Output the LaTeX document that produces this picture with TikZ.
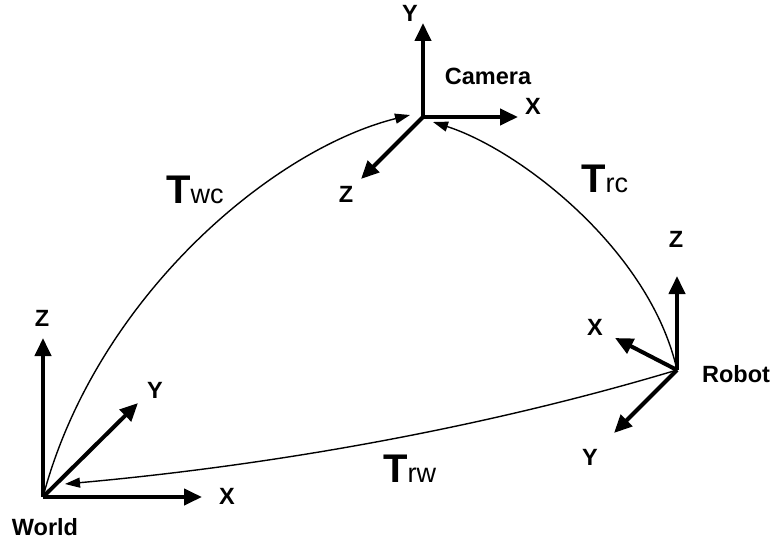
\documentclass[tikz,border=0pt]{standalone}
\usepackage{fontspec}
\setmainfont{Liberation Sans}
\usetikzlibrary{arrows.meta}
\tikzset{
  axis/.style={line width=4pt, -{Triangle[length=18pt,width=16pt]}},
  xform/.style={line width=1.4pt, -{Triangle[length=15pt,width=10pt]}},
  lbl/.style={font=\fontsize{23.5}{27}\selectfont\bfseries, inner sep=0pt, anchor=center},
  tlbl/.style={inner sep=0pt, anchor=base west}
}
\newcommand{\tname}[1]{{\fontsize{40}{40}\selectfont\bfseries T}{\fontsize{27}{27}\selectfont #1}}
\begin{document}
\begin{tikzpicture}[x=1pt,y=-1pt]
\useasboundingbox (0,0) rectangle (773,543);
% origins
\coordinate (cam) at (423,117);
\coordinate (wor) at (43,497);
\coordinate (rob) at (677,370);
% axis tips
\coordinate (camY) at (423,23);
\coordinate (camX) at (518,117);
\coordinate (camZ) at (361,179);
\coordinate (worZ) at (43,338);
\coordinate (worX) at (202,497);
\coordinate (worY) at (138,403);
\coordinate (robZ) at (677,276);
\coordinate (robX) at (615,338);
\coordinate (robY) at (614,433);
% curve end points
\coordinate (twcEnd) at (410,115);
\coordinate (trcEnd) at (433,122);
\coordinate (trwEnd) at (65,484);
% axes
\draw[axis] (cam) -- (camY);
\draw[axis] (cam) -- (camX);
\draw[axis] (cam) -- (camZ);
\draw[axis] (wor) -- (worZ);
\draw[axis] (wor) -- (worX);
\draw[axis] (wor) -- (worY);
\draw[axis] (rob) -- (robZ);
\draw[axis] (rob) -- (robX);
\draw[axis] (rob) -- (robY);
% transforms
\draw[xform] (wor) .. controls (95,300) and (270,150) .. (twcEnd);
\draw[xform] (rob) .. controls (650,250) and (520,150) .. (trcEnd);
\draw[xform] (rob) .. controls (477,430) and (265,466) .. (trwEnd);
% labels
\node[lbl] (lcY) at (410,13.5) {Y};
\node[lbl] (lcX) at (533,106) {X};
\node[lbl] (lcZ) at (346,194) {Z};
\node[lbl] (lcam) at (488,76) {Camera};
\node[lbl] (lwZ) at (42,318) {Z};
\node[lbl] (lwY) at (155,390) {Y};
\node[lbl] (lwX) at (227,496) {X};
\node[lbl] (lwor) at (45,527) {World};
\node[lbl] (lrZ) at (676,239) {Z};
\node[lbl] (lrX) at (595,327) {X};
\node[lbl] (lrY) at (590,457) {Y};
\node[lbl] (lrob) at (736,374.5) {Robot};
\node[tlbl] (twc) at (166,203) {\tname{wc}};
\node[tlbl] (trc) at (581,192) {\tname{rc}};
\node[tlbl] (trw) at (383,482) {\tname{rw}};
\end{tikzpicture}
\end{document}
